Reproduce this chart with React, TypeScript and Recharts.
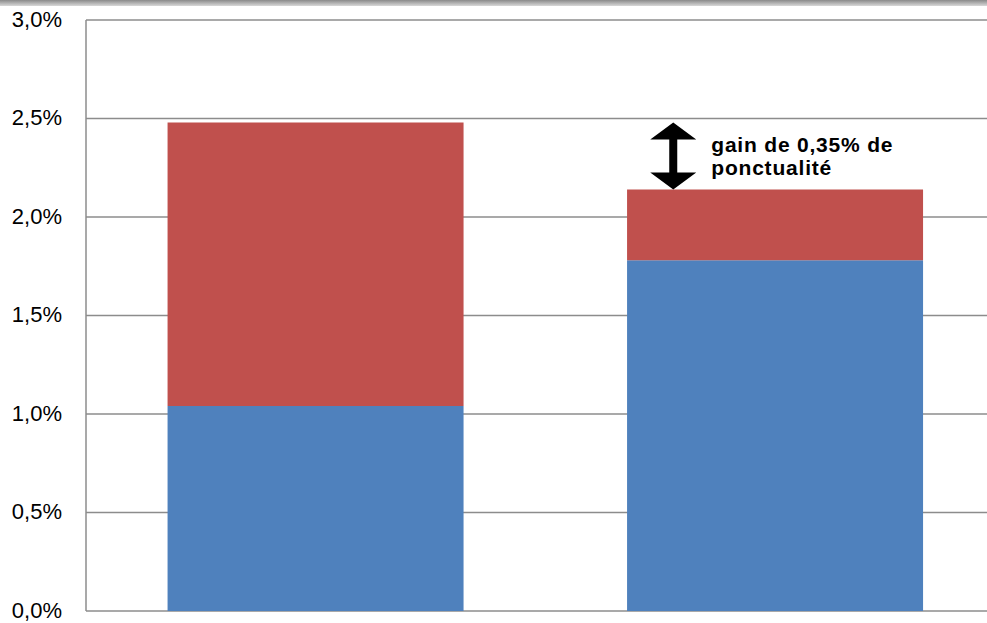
import React from 'react'
import { BarChart, Bar, XAxis, YAxis, CartesianGrid, ReferenceLine } from 'recharts'

const categories = ['avant', 'après']
const blueValues = [1.04, 1.78]
const redValues = [1.44, 0.36]
const yTicks = [0, 0.5, 1, 1.5, 2, 2.5, 3]
const gainLines = ['gain de 0,35% de', 'ponctualité']
const gainFrom = 2.48
const gainTo = 2.14

const data = categories.map((name, i) => ({ name, blue: blueValues[i], red: redValues[i] }))

const fmt = (v: number) => v.toFixed(1).replace('.', ',') + '%'

const GainArrow = (props: any) => {
  const { x1, y1, y2 } = props
  const cx = x1 - 102
  const top = Math.min(y1, y2)
  const bot = Math.max(y1, y2)
  const head = 17
  const hw = 23
  const sw = 4
  const d = [
    `M${cx} ${top}`,
    `L${cx + hw} ${top + head}`,
    `L${cx + sw} ${top + head}`,
    `L${cx + sw} ${bot - head}`,
    `L${cx + hw} ${bot - head}`,
    `L${cx} ${bot}`,
    `L${cx - hw} ${bot - head}`,
    `L${cx - sw} ${bot - head}`,
    `L${cx - sw} ${top + head}`,
    `L${cx - hw} ${top + head}`,
    'Z',
  ].join(' ')
  return (
    <g>
      <path d={d} fill="#000" />
      {gainLines.map((t, i) => (
        <text
          key={i}
          x={cx + 38}
          y={top + 30 + i * 23}
          fontFamily="Liberation Sans, Arial, sans-serif"
          fontWeight="bold"
          fontSize={21}
          letterSpacing={0.8}
          fill="#000"
        >
          {t}
        </text>
      ))}
    </g>
  )
}

const App: React.FC = () => {
  return (
    <div style={{ position: 'fixed', left: 0, top: 0, width: 987, height: 623, overflow: 'hidden', background: '#fff' }}>
      <div
        style={{
          position: 'absolute',
          left: 0,
          top: 0,
          width: 987,
          height: 6,
          background: 'linear-gradient(#8a8a8a, #d8d8d8)',
          zIndex: 2,
        }}
      />
      <BarChart
        width={1005}
        height={623}
        data={data}
        margin={{ top: 20, right: 0, bottom: 12, left: 0 }}
        barCategoryGap="17.75%"
      >
        <CartesianGrid vertical={false} stroke="#8c8c8c" strokeWidth={1.5} />
        <XAxis dataKey="name" hide />
        <YAxis
          width={86}
          domain={[0, 3]}
          ticks={yTicks}
          tickFormatter={fmt}
          tickLine={false}
          tickMargin={18}
          axisLine={{ stroke: '#8c8c8c', strokeWidth: 1.5 }}
          tick={{ fill: '#000', fontSize: 22, fontFamily: 'Liberation Sans, Arial, sans-serif', dy: -1 }}
          interval={0}
        />
        <Bar dataKey="blue" stackId="s" fill="#4F81BD" isAnimationActive={false} />
        <Bar dataKey="red" stackId="s" fill="#C0504D" isAnimationActive={false} />
        <ReferenceLine
          segment={[
            { x: categories[1], y: gainFrom },
            { x: categories[1], y: gainTo },
          ]}
          ifOverflow="visible"
          shape={GainArrow}
        />
      </BarChart>
    </div>
  )
}

export default App
